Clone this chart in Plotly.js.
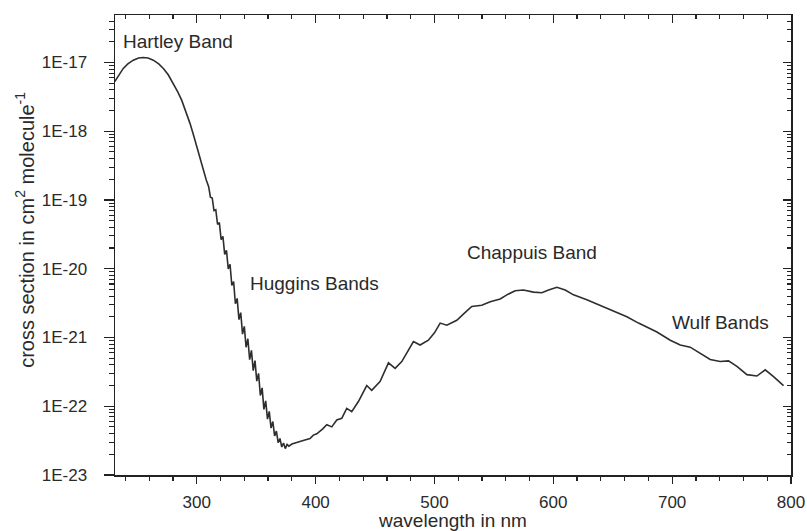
<!DOCTYPE html>
<html>
<head>
<meta charset="utf-8">
<script src="https://cdn.plot.ly/plotly-3.0.1.min.js"></script>
<style>html,body{margin:0;padding:0;background:#fff;}#chart{width:807px;height:531px;}</style>
</head>
<body>
<div id="chart"></div>
<script>
// Ozone absorption cross section
const wavelength_nm = [
  231, 235, 238, 242, 246.6, 251, 255, 259, 263.4, 268, 271.9, 276, 280.3, 284, 287.3, 291, 294.3, 297, 300, 303, 305.5, 308,
  310, 311.5, 313, 314.5, 316, 317.5, 319, 320.5, 322, 323.5, 325, 326.5, 328, 329.5, 331, 332.5, 334, 335.5, 337, 338.5,
  340, 341.5, 343, 344.5, 346, 347.5, 349, 350.5, 352, 353.5, 355, 356.5, 358, 359.5, 361, 362.5, 364, 365.5, 367, 368.5,
  370, 371.5, 373, 374.5, 376, 377.5, 380, 383, 387, 391, 395.3, 398.1, 401, 404, 406, 409.4, 413.6, 417.8, 422, 426.2,
  430.4, 436, 443, 447.2, 450, 454.2, 461.3, 466.9, 472.5, 476, 482.3, 487.9, 494.9, 500, 504.8, 510.4, 518.8, 525, 531.4,
  539.8, 546.9, 555.3, 560.9, 567.9, 574.9, 583.3, 590.4, 596, 603, 610, 617, 628.2, 639.4, 650.7, 661.9, 671.7, 680,
  687.2, 698.4, 706.8, 715.2, 723.6, 732, 740.4, 747.4, 754.5, 762.9, 771.3, 778.3, 785.3, 793.7
];
const cross_section = [
  5.25e-18, 6.76e-18, 8.13e-18, 9.55e-18, 1.08e-17, 1.16e-17, 1.18e-17, 1.16e-17, 1.08e-17, 9.55e-18, 8.18e-18, 6.61e-18,
  4.95e-18, 3.72e-18, 2.83e-18, 1.91e-18, 1.30e-18, 9.12e-19, 5.93e-19, 3.89e-19, 2.72e-19, 1.95e-19,
  1.56e-19, 1.10e-19, 1.07e-19, 7.00e-20, 7.20e-20, 4.40e-20, 4.70e-20, 2.65e-20, 2.95e-20, 1.62e-20, 1.85e-20, 9.90e-21,
  1.16e-20, 5.70e-21, 6.50e-21, 3.10e-21, 3.70e-21, 1.82e-21, 2.30e-21, 1.12e-21,
  1.45e-21, 7.20e-22, 9.60e-22, 4.75e-22, 6.50e-22, 3.30e-22, 4.60e-22, 2.32e-22, 3.00e-22, 1.43e-22, 1.85e-22, 9.00e-23,
  1.20e-22, 6.50e-23, 8.40e-23, 4.80e-23, 6.00e-23, 3.70e-23, 4.35e-23, 2.95e-23,
  3.40e-23, 2.55e-23, 2.92e-23, 2.42e-23, 2.78e-23, 2.63e-23, 2.82e-23, 2.95e-23, 3.09e-23, 3.24e-23, 3.39e-23, 3.80e-23,
  3.98e-23, 4.37e-23, 4.68e-23, 5.37e-23, 5.01e-23, 6.31e-23, 6.68e-23, 9.33e-23,
  8.32e-23, 1.17e-22, 2.00e-22, 1.70e-22, 1.91e-22, 2.29e-22, 4.27e-22, 3.55e-22, 4.47e-22, 5.62e-22, 8.71e-22, 7.76e-22,
  9.12e-22, 1.17e-21, 1.62e-21, 1.51e-21, 1.78e-21, 2.24e-21, 2.82e-21,
  2.95e-21, 3.31e-21, 3.63e-21, 4.17e-21, 4.79e-21, 4.90e-21, 4.57e-21, 4.47e-21, 4.90e-21, 5.37e-21, 4.90e-21, 4.17e-21,
  3.55e-21, 2.95e-21, 2.40e-21, 2.00e-21, 1.62e-21, 1.38e-21,
  1.20e-21, 9.12e-22, 7.76e-22, 7.24e-22, 5.89e-22, 4.79e-22, 4.47e-22, 4.57e-22, 3.80e-22, 2.88e-22, 2.75e-22, 3.39e-22,
  2.69e-22, 2.00e-22
];
const x_tick_values = [300, 400, 500, 600, 700, 800];
const y_tick_values = [1e-23, 1e-22, 1e-21, 1e-20, 1e-19, 1e-18, 1e-17];
const y_tick_labels = ['1E-23', '1E-22', '1E-21', '1E-20', '1E-19', '1E-18', '1E-17'];
const band_names = ['Hartley Band', 'Huggins Bands', 'Chappuis Band', 'Wulf Bands'];
const x_title = 'wavelength in nm';
const y_title = 'cross section in cm<sup>2</sup> molecule<sup>-1</sup>';

// minor tick positions: every 20 nm on x, 2..9 x each decade on y
const x_minor = [];
for (let v = 240; v < 800; v += 20) { if (v % 100 !== 0) x_minor.push(v); }
const y_minor = [];
y_tick_values.forEach(d => { for (let k = 2; k <= 9; k++) y_minor.push(+(k * d).toPrecision(3)); });

const FONT = 'Liberation Sans, Arial, Helvetica, sans-serif';
const TXT = '#2a2a2a';
const AX = '#222222';
const xRange = [231.2, 800];
const yRange = [-23, -16.31];

const trace = {
  x: wavelength_nm, y: cross_section, type: 'scatter', mode: 'lines',
  line: {color: '#2e2e2e', width: 1.6}, hoverinfo: 'skip', showlegend: false
};
// transparent copy that carries the top/right tick axes (ticks pointing inward)
const frameTrace = {
  x: wavelength_nm, y: cross_section, xaxis: 'x2', yaxis: 'y2', type: 'scatter', mode: 'lines',
  line: {color: 'rgba(0,0,0,0)', width: 0.1}, hoverinfo: 'skip', showlegend: false
};

const annPos = [[283.8, -16.69], [399.1, -20.21], [581.7, -19.77], [740.5, -20.775]];
const annotations = band_names.map((t, i) => ({
  text: t, x: annPos[i][0], y: annPos[i][1], xref: 'x', yref: 'y',
  showarrow: false, xanchor: 'center', yanchor: 'middle',
  font: {family: FONT, size: 19, color: TXT}
}));
annotations.push({
  text: y_title, textangle: -90, xref: 'paper', yref: 'paper', x: -0.1331, y: 0.533,
  xanchor: 'center', yanchor: 'middle', showarrow: false,
  font: {family: FONT, size: 20, color: TXT}
});

const layout = {
  width: 807, height: 531,
  margin: {l: 115, r: 16, t: 15, b: 56},
  paper_bgcolor: '#ffffff', plot_bgcolor: '#ffffff',
  font: {family: FONT, color: TXT},
  showlegend: false,
  xaxis: {
    range: xRange, type: 'linear', tickmode: 'array', tickvals: x_tick_values,
    ticks: 'outside', ticklen: 7, tickwidth: 1.3, tickcolor: AX, mirror: true,
    showline: true, linecolor: AX, linewidth: 1.5, showgrid: false, zeroline: false,
    tickfont: {family: FONT, size: 17, color: TXT}, ticklabelstandoff: 4,
    minor: {tickmode: 'array', tickvals: x_minor, ticks: 'outside', ticklen: 4, tickwidth: 1.2, tickcolor: AX, showgrid: false},
    title: {text: x_title, font: {family: FONT, size: 19, color: TXT}, standoff: 8}
  },
  yaxis: {
    type: 'log', range: yRange, tickmode: 'array', tickvals: y_tick_values, ticktext: y_tick_labels,
    ticks: 'outside', ticklen: 10, tickwidth: 1.3, tickcolor: AX, mirror: true,
    showline: true, linecolor: AX, linewidth: 1.5, showgrid: false, zeroline: false,
    tickfont: {family: FONT, size: 17, color: TXT}, ticklabelstandoff: 13,
    minor: {tickmode: 'array', tickvals: y_minor, ticks: 'outside', ticklen: 5, tickwidth: 1.1, tickcolor: AX, showgrid: false}
  },
  xaxis2: {
    overlaying: 'x', side: 'top', range: xRange, type: 'linear',
    tickmode: 'array', tickvals: x_tick_values, showticklabels: false,
    ticks: 'inside', ticklen: 8, tickwidth: 1.3, tickcolor: AX,
    showline: false, showgrid: false, zeroline: false,
    minor: {tickmode: 'array', tickvals: x_minor, ticks: 'inside', ticklen: 4, tickwidth: 1.2, tickcolor: AX, showgrid: false}
  },
  yaxis2: {
    overlaying: 'y', side: 'right', type: 'log', range: yRange,
    tickmode: 'array', tickvals: y_tick_values, showticklabels: false,
    ticks: 'inside', ticklen: 8, tickwidth: 1.3, tickcolor: AX,
    showline: false, showgrid: false, zeroline: false,
    minor: {tickmode: 'array', tickvals: y_minor, ticks: 'inside', ticklen: 4, tickwidth: 1.1, tickcolor: AX, showgrid: false}
  },
  annotations: annotations
};

Plotly.newPlot('chart', [trace, frameTrace], layout, {staticPlot: true, displayModeBar: false});
</script>
</body>
</html>
